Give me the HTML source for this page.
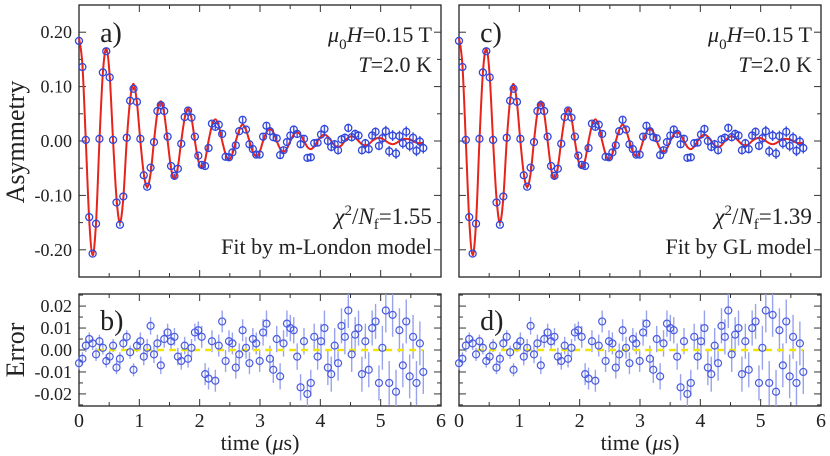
<!DOCTYPE html>
<html><head><meta charset="utf-8"><style>
body{margin:0;background:#fff}
svg{display:block}
text{font-family:"Liberation Serif",serif;fill:#222}
</style></head><body>
<svg id="fig" width="830" height="456" viewBox="0 0 830 456">
<text x="24" y="142" font-size="26" transform="rotate(-90 24 142)" text-anchor="middle">Asymmetry</text>
<text x="24" y="350" font-size="26" transform="rotate(-90 24 350)" text-anchor="middle">Error</text>
</svg>
<script>
// Fit curve sampled every 0.0565 µs
const tStep = 0.0565;
const fitVals = [0.19,0.14,0,-0.145,-0.21,-0.15,0,0.125,
0.17,0.12,0,-0.105,-0.15,-0.105,0,0.075,
0.105,0.07,0,-0.06,-0.085,-0.06,0,0.052,
0.073,0.05,0,-0.05,-0.07,-0.048,0,0.042,
0.06,0.042,0,-0.036,-0.05,-0.035,0,0.028,
0.04,0.028,0,-0.024,-0.034,-0.024,0,0.02,
0.03,0.02,0,-0.02,-0.028,-0.02,0,0.016,
0.022,0.016,0,-0.014,-0.02,-0.014,0,0.012,
0.016,0.011,0,-0.011,-0.015,-0.01,0,0.008,
0.012,0.008,0,-0.008,-0.011,-0.008,0,0.006,
0.009,0.006,0,-0.006,-0.008,-0.006,0,0.004,
0.006,0.004,0,-0.004,-0.006,-0.004,0,0.003,
0.004,0.003,0,-0.003,-0.004,-0.003];
const residuals = [-0.006,-0.004,0.002,0.005,0.003,-0.002,0.004,0.001,-0.005,-0.003,0.002,-0.008,-0.004,0.003,0.006,-0.001,-0.009,0.002,0.004,-0.003,0.001,0.011,-0.002,0.003,-0.007,0.005,0.008,0.004,0.006,-0.003,-0.005,0.002,-0.004,0.001,0.008,
0.009,0.006,-0.011,-0.013,0.004,-0.014,0.002,0.013,-0.005,0.004,0.003,-0.008,-0.002,0.009,0.001,-0.006,0.005,0.003,
-0.005,0.008,0.012,-0.004,-0.009,0.005,-0.012,0.003,0.012,0.010,0.009,-0.003,-0.017,0.004,-0.020,-0.015,0.006,-0.003,
0.004,0.010,-0.008,-0.011,0.002,-0.006,0.011,0.006,0.018,-0.002,0.007,0.010,-0.011,0.004,-0.009,0.010,0.013,-0.015,
0.001,0.018,-0.015,0.016,-0.019,0.009,-0.007,0.013,-0.012,0.006,-0.015,0.003,-0.010];
const errByMicrosecond = [0.003,0.004,0.005,0.006,0.008,0.010];
const asymTicks = ["0.20","0.10","0.00","-0.10","-0.20"];
const asymTickVals = [0.2,0.1,0,-0.1,-0.2];
const errTicks = ["0.02","0.01","0.00","-0.01","-0.02"];
const errTickVals = [0.02,0.01,0,-0.01,-0.02];
const timeTicks = [0,1,2,3,4,5,6];
const panels = [
 {off:0, top:"a)", bot:"b)", chi:"1.55", model:"Fit by m-London model", axes:true},
 {off:380, top:"c)", bot:"d)", chi:"1.39", model:"Fit by GL model", axes:false}
];
const NS="http://www.w3.org/2000/svg";
const svg=document.getElementById('fig');
function mk(tag,attrs,parent){const e=document.createElementNS(NS,tag);for(const k in attrs)e.setAttribute(k,attrs[k]);(parent||svg).appendChild(e);return e;}
function smoothPath(pts){let d='M'+pts[0][0]+','+pts[0][1];
 for(let i=0;i<pts.length-1;i++){const p0=pts[Math.max(0,i-1)],p1=pts[i],p2=pts[i+1],p3=pts[Math.min(pts.length-1,i+2)];
  const c1=[p1[0]+(p2[0]-p0[0])/6,p1[1]+(p2[1]-p0[1])/6],c2=[p2[0]-(p3[0]-p1[0])/6,p2[1]-(p3[1]-p1[1])/6];
  d+=' C'+c1.join(',')+' '+c2.join(',')+' '+p2.join(',');}
 return d;}
const X0=79,X1=441,T0=5,T1=277,B0=294,B1=406;
panels.forEach((p,pi)=>{
 const xs=t=>X0+p.off+(t/6)*(X1-X0);
 const ya=v=>T0+(0.25-v)/0.5*(T1-T0);
 const ye=v=>B0+(0.0255-v)/0.051*(B1-B0);
 const g=mk('g',{});
 
 
 [[T0,T1],[B0,B1]].forEach(([a,b],fi)=>{
  const r=mk('rect',{x:xs(0),y:a,width:X1-X0,height:b-a,fill:'none',stroke:'#333','stroke-width':1.4},g);
  
  
  for(let t=0;t<=6;t+=0.5){const L=(t%1===0)?7:4;
   mk('line',{x1:xs(t),x2:xs(t),y1:b,y2:b-L,stroke:'#333'},g);
   mk('line',{x1:xs(t),x2:xs(t),y1:a,y2:a+L,stroke:'#333'},g);}
 });
 for(let v=-0.25;v<=0.2501;v+=0.05){const L=(Math.round(v*100)%10===0)?7:4;const y=ya(v);
  mk('line',{x1:xs(0),x2:xs(0)+L,y1:y,y2:y,stroke:'#333'},g);mk('line',{x1:xs(6),x2:xs(6)-L,y1:y,y2:y,stroke:'#333'},g);}
 for(let v=-0.025;v<=0.0251;v+=0.005){const L=(Math.round(v*1000)%10===0)?7:4;const y=ye(v);
  mk('line',{x1:xs(0),x2:xs(0)+L,y1:y,y2:y,stroke:'#333'},g);mk('line',{x1:xs(6),x2:xs(6)-L,y1:y,y2:y,stroke:'#333'},g);}
 if(p.axes){
  asymTicks.forEach((s,i)=>{const e=mk('text',{x:72,y:ya(asymTickVals[i])+6,'font-size':18,'text-anchor':'end'},g);e.textContent=s;
   });
  errTicks.forEach((s,i)=>{const e=mk('text',{x:72,y:ye(errTickVals[i])+6,'font-size':18,'text-anchor':'end'},g);e.textContent=s;
   });
 }
 timeTicks.forEach(t=>{const e=mk('text',{x:xs(t),y:427,'font-size':20,'text-anchor':'middle'},g);e.textContent=t;
  });
 const xt=mk('text',{x:xs(3),y:450,'font-size':22,'text-anchor':'middle'},g);
 xt.innerHTML='time (<tspan font-style="italic">μ</tspan>s)';
 
 const dg=mk('g',{},g);
 fitVals.forEach((f,i)=>{const t=i*tStep;const d=f+residuals[i];const eb=errByMicrosecond[Math.min(5,Math.floor(t))];
  const l=mk('line',{x1:xs(t),x2:xs(t),y1:ya(d-eb),y2:ya(d+eb),stroke:'#3f52e0','stroke-width':1.4},dg);
  });
 const fl=mk('path',{d:smoothPath(fitVals.map((f,i)=>[xs(i*tStep),ya(f)])),fill:'none',stroke:'#e8231a','stroke-width':2},g);
 
 fitVals.forEach((f,i)=>{const t=i*tStep;const d=f+residuals[i];
  const c=mk('circle',{cx:xs(t),cy:ya(d),r:3.5,fill:'none',stroke:'#3046dc','stroke-width':1.3},g);
  });
 residuals.forEach((r,i)=>{const t=i*tStep;const eb=errByMicrosecond[Math.min(5,Math.floor(t))];
  const l=mk('line',{x1:xs(t),x2:xs(t),y1:Math.min(B1,ye(r-eb)),y2:Math.max(B0,ye(r+eb)),stroke:'#98a3ee','stroke-width':1.4},g);
  });
 const zl=mk('line',{x1:xs(0.3),x2:xs(5.7),y1:ye(0),y2:ye(0),stroke:'#f2e600','stroke-width':2.5,'stroke-dasharray':'7,5'},g);
 
 residuals.forEach((r,i)=>{const t=i*tStep;
  const c=mk('circle',{cx:xs(t),cy:ye(r),r:3.5,fill:'none',stroke:'#4a5be0','stroke-width':1.2},g);
  });
 const la=mk('text',{x:xs(0.35),y:42,'font-size':28},g);la.textContent=p.top;
 
 const lb=mk('text',{x:xs(0.35),y:330,'font-size':28},g);lb.textContent=p.bot;
 
 const h=mk('text',{x:xs(5.85),y:42,'font-size':22,'text-anchor':'end'},g);
 h.innerHTML='<tspan font-style="italic">μ</tspan><tspan font-size="15" dy="7">0</tspan><tspan font-style="italic" dy="-7">H</tspan>=0.15 T';
 
 const tt=mk('text',{x:xs(5.85),y:72,'font-size':22,'text-anchor':'end'},g);
 tt.innerHTML='<tspan font-style="italic">T</tspan>=2.0 K';
 
 const ch=mk('text',{x:xs(5.85),y:224,'font-size':23,'text-anchor':'end'},g);
 ch.innerHTML='<tspan font-style="italic">χ</tspan><tspan font-size="15" dy="-9">2</tspan><tspan dy="9">/</tspan><tspan font-style="italic">N</tspan><tspan font-size="15" dy="5">f</tspan><tspan dy="-5">='+p.chi+'</tspan>';
 
 const m=mk('text',{x:xs(5.85),y:254,'font-size':22,'text-anchor':'end'},g);m.textContent=p.model;
 
});
</script>
</body></html>
